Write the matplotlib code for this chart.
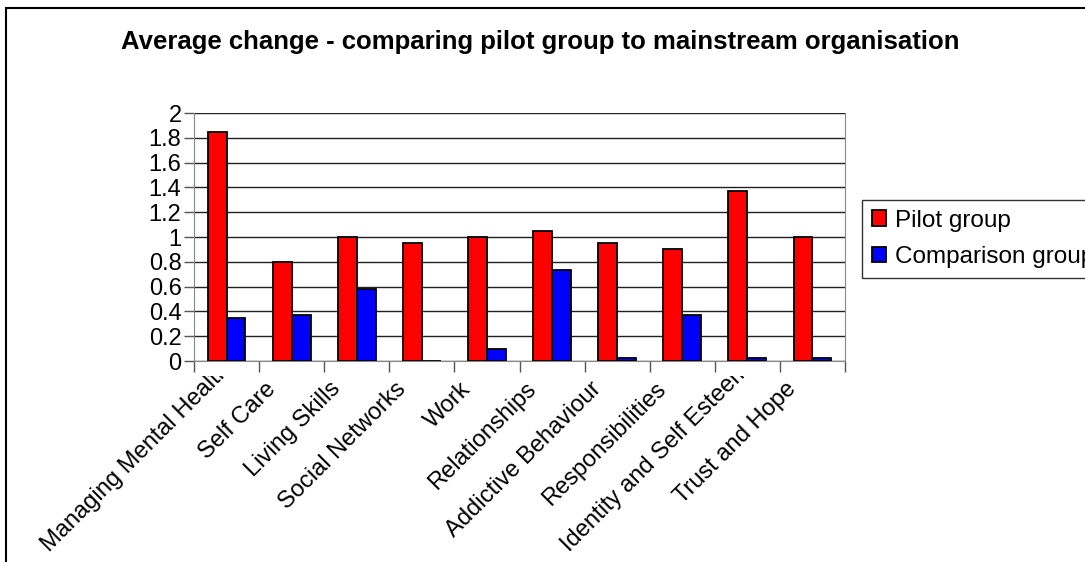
import numpy as np
import matplotlib.pyplot as plt
from matplotlib.patches import Rectangle
from matplotlib.transforms import ScaledTranslation

plt.rcParams['font.family'] = ['Liberation Sans', 'DejaVu Sans']

# Data
categories = ["Managing Mental Health", "Self Care", "Living Skills", "Social Networks",
              "Work", "Relationships", "Addictive Behaviour", "Responsibilities",
              "Identity and Self Esteem", "Trust and Hope"]
pilot = [1.85, 0.8, 1.0, 0.95, 1.0, 1.05, 0.95, 0.9, 1.375, 1.0]
comparison = [0.35, 0.375, 0.58, 0.0, 0.1, 0.73, 0.025, 0.375, 0.025, 0.025]
yticks = [0, 0.2, 0.4, 0.6, 0.8, 1, 1.2, 1.4, 1.6, 1.8, 2]
ytick_labels = ["0", "0.2", "0.4", "0.6", "0.8", "1", "1.2", "1.4", "1.6", "1.8", "2"]

W, H = 1085, 562
fig = plt.figure(figsize=(W / 100, H / 100), dpi=100)
ax = fig.add_axes([194 / W, 1 - 361 / H, (845 - 194) / W, (361 - 113) / H])

x = np.arange(len(categories))
bw = 0.29
b1 = ax.bar(x - bw / 2, pilot, bw, color="#FF0000", edgecolor="black", linewidth=1.3,
            label="Pilot group", zorder=3)
b2 = ax.bar(x + bw / 2, comparison, bw, color="#0000FF", edgecolor="black", linewidth=1.3,
            label="Comparison group", zorder=3)

ax.set_xlim(-0.5, len(categories) - 0.5)
ax.set_ylim(0, 2)
ax.set_yticks(yticks)
ax.set_yticklabels(ytick_labels, fontsize=17)
ax.yaxis.grid(True, color="#222222", linewidth=1, zorder=0)
ax.set_axisbelow(True)

# category boundaries as tick marks
ax.set_xticks(np.arange(len(categories) + 1) - 0.5)
ax.set_xticklabels([])
ax.tick_params(axis="x", length=8, color="#555555", width=1)
ax.tick_params(axis="y", length=7, color="#555555", width=1, pad=2)
for s in ["left", "bottom", "right"]:
    ax.spines[s].set_color("#888888")
ax.spines["top"].set_visible(False)

# rotated category labels, clipped just under the axis like the original
clip = Rectangle((0, 0), 1, 1 - 376 / H, transform=fig.transFigure, visible=False)
fig.add_artist(clip)
dx, dy = -0.27, -0.17
labels = []
for i, c in enumerate(categories):
    t = ax.text(i, 0, c, rotation=45, rotation_mode="anchor",
                ha="right", va="top", fontsize=17, clip_on=True,
                transform=ax.transData + ScaledTranslation(dx, dy, fig.dpi_scale_trans))
    t.set_clip_path(clip)
    labels.append(t)

# long labels get pushed up along their direction so they fit above the bottom
fig.canvas.draw()
renderer = fig.canvas.get_renderer()
bottom_px = H - 556
for t in labels:
    bb = t.get_window_extent(renderer)
    if bb.y0 < bottom_px:
        d = (bottom_px - bb.y0) / 100
        t.set_transform(ax.transData + ScaledTranslation(dx + d, dy + d, fig.dpi_scale_trans))

fig.text(540 / W, 1 - 42 / H, "Average change - comparing pilot group to mainstream organisation",
         ha="center", va="center", fontsize=18.5, fontweight="bold")

leg = fig.legend(handles=[b1, b2], loc="upper left", bbox_to_anchor=(862 / W, 1 - 200 / H),
                 fontsize=17.5, frameon=True, fancybox=False, edgecolor="black",
                 handlelength=0.6, handleheight=0.6, handletextpad=0.35,
                 borderpad=0.4, labelspacing=0.6, borderaxespad=0)
leg.get_frame().set_linewidth(1)

# outer chart border
fig.add_artist(Rectangle((6 / W, -0.1), 1.2, 1 - 8 / H + 0.1, transform=fig.transFigure,
                         fill=False, edgecolor="black", linewidth=1.5))

fig.savefig("out.png", dpi=100)
